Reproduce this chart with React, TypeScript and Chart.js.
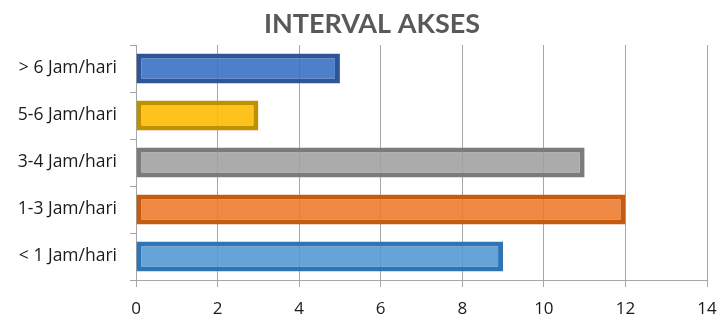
import React, { useEffect, useRef } from "react";
import { Chart, registerables } from "chart.js";

Chart.register(...registerables);

const categories = ["> 6 Jam/hari", "5-6 Jam/hari", "3-4 Jam/hari", "1-3 Jam/hari", "< 1 Jam/hari"];
const values = [5, 3, 11, 12, 9];
const fillColors = ["rgba(58,113,197,0.9)", "rgba(253,187,2,0.9)", "rgba(162,162,162,0.9)", "rgba(236,123,47,0.9)", "rgba(84,153,212,0.9)"];
const borderColors = ["#2F5597", "#BF9000", "#7B7B7B", "#C55A11", "#2E75B6"];
const xTicks = [0, 2, 4, 6, 8, 10, 12, 14];
const title = "INTERVAL AKSES";

const titlePlugin = {
  id: "offsetTitle",
  afterDraw(chart: any) {
    const ctx = chart.ctx;
    ctx.save();
    ctx.font = "bold 27px Lato";
    ctx.fillStyle = "#595959";
    ctx.textAlign = "center";
    ctx.textBaseline = "alphabetic";
    ctx.fillText(title, 372, 33);
    ctx.restore();
  },
};

export default function App() {
  const ref = useRef<HTMLCanvasElement | null>(null);
  useEffect(() => {
    if (!ref.current) return;
    const chart = new Chart(ref.current, {
      type: "bar",
      data: {
        labels: categories,
        datasets: [
          {
            data: values,
            backgroundColor: fillColors,
            borderColor: borderColors,
            borderWidth: 5,
            borderSkipped: false,
            barPercentage: 0.64,
            categoryPercentage: 1,
          },
        ],
      },
      plugins: [titlePlugin],
      options: {
        indexAxis: "y",
        animation: false,
        responsive: false,
        maintainAspectRatio: false,
        layout: { padding: { left: 0, right: 13, top: 45, bottom: 0 } },
        plugins: {
          legend: { display: false },
          tooltip: { enabled: false },
          title: { display: false },
        },
        scales: {
          x: {
            min: xTicks[0],
            max: xTicks[xTicks.length - 1],
            afterBuildTicks: (scale: any) => {
              scale.ticks = xTicks.map((v) => ({ value: v }));
            },
            afterFit: (scale: any) => {
              scale.height = 40;
              scale.paddingLeft = 0;
              scale.paddingRight = 0;
            },
            grid: { color: "#A6A6A6", lineWidth: 1, tickLength: 7, drawTicks: true },
            border: { display: true, color: "#A6A6A6", width: 1 },
            ticks: {
              color: "#1a1a1a",
              font: { family: "Open Sans", size: 17 },
              padding: 12,
              maxRotation: 0,
            },
          },
          y: {
            afterFit: (scale: any) => {
              scale.width = 136;
            },
            grid: { display: true, drawOnChartArea: false, color: "#A6A6A6", tickLength: 6, offset: true },
            border: { display: true, color: "#A6A6A6", width: 1 },
            ticks: {
              color: "#1a1a1a",
              font: { family: "Open Sans", size: 17.5 },
              padding: 13,
            },
          },
        },
      },
    });
    return () => chart.destroy();
  }, []);
  return (
    <div style={{ position: "fixed", left: 0, top: 0, width: 720, height: 320, background: "#fff" }}>
      <canvas ref={ref} width={720} height={320} style={{ width: 720, height: 320, display: "block" }} />
    </div>
  );
}
